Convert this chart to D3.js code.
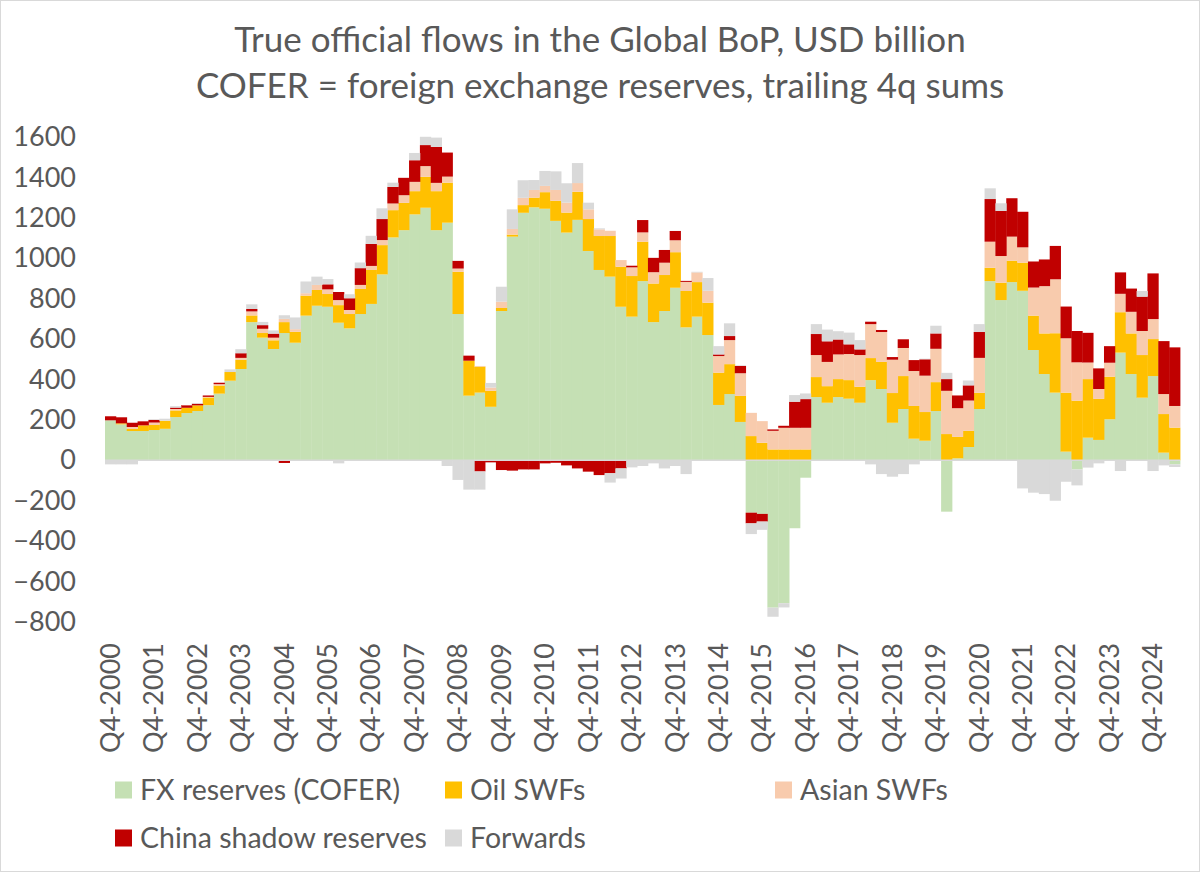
<!DOCTYPE html>
<html>
<head>
<meta charset="utf-8">
<script src="https://cdn.jsdelivr.net/npm/d3@7"></script>
<style>
  body { margin: 0; background: #fff; }
  svg text { font-family: Lato, "Liberation Sans", sans-serif; fill: #595959; }
</style>
</head>
<body>
<div class="visHolder"></div>
<script>
// trailing 4q sums, USD billion, one value per quarter from Q4-2000
const fxReserves = [
  198, 178, 145, 145, 150, 156, 214, 234, 244, 273,
  330, 394, 452, 684, 607, 551, 630, 582, 716, 765,
  760, 681, 653, 724, 774, 920, 1103, 1139, 1217, 1250,
  1139, 1176, 724, 320, 335, 265, 739, 1107, 1225, 1252,
  1245, 1185, 1127, 1190, 1036, 942, 909, 760, 711, 887,
  684, 739, 854, 658, 711, 620, 274, 328, 190, -259,
  -265, -729, -707, -336, -86, 313, 285, 313, 305, 285,
  397, 353, 186, 254, 107, 97, 244, -254, 10, 66,
  254, 887, 793, 882, 839, 546, 427, 335, 43, -45,
  112, 101, 203, 533, 427, 310, 417, 38, -20
];
const oilSWFs = [
  0, 5, 10, 28, 25, 40, 33, 26, 28, 38,
  40, 43, 45, 33, 23, 43, 54, 54, 99, 78,
  63, 87, 71, 124, 168, 145, 135, 135, 115, 153,
  193, 198, 209, 173, 129, 79, 15, 10, 38, 48,
  82, 99, 99, 139, 158, 168, 201, 198, 201, 195,
  191, 178, 176, 180, 171, 160, 160, 148, 129, 120,
  87, 54, 54, 54, 54, 99, 82, 89, 92, 79,
  109, 134, 147, 163, 162, 142, 143, 130, 106, 80,
  80, 66, 86, 106, 139, 170, 201, 294, 292, 295,
  290, 203, 211, 200, 201, 211, 183, 191, 162
];
const asianSWFs = [
  0, 0, 10, 0, 12, 0, 7, 0, 0, 3,
  7, 0, 10, 20, 21, 13, 16, 13, 12, 25,
  23, 25, 20, 20, 20, 25, 33, 38, 46, 53,
  41, 30, 16, 0, 3, 16, 31, 28, 36, 38,
  31, 54, 49, 43, 48, 33, 26, 33, 43, 46,
  56, 61, 59, 45, 48, 59, 82, 119, 112, 115,
  107, 92, 107, 107, 107, 109, 120, 122, 129, 157,
  168, 148, 165, 139, 173, 180, 165, 214, 142, 150,
  173, 129, 132, 119, 76, 139, 234, 267, 269, 190,
  82, 49, 69, 91, 107, 119, 99, 99, 107
];
const chinaShadow = [
  20, 30, 21, 20, 13, 0, 7, 12, 8, 7,
  7, 0, 23, 12, 18, 20, -13, 0, 0, 0,
  25, 40, 58, 83, 109, 104, 82, 86, 107, 104,
  178, 119, 38, 25, -55, -10, -48, -51, -45, -45,
  -15, -12, -25, -40, -56, -73, -64, -40, 8, 61,
  71, 63, 46, 5, 0, 0, 8, 20, 36, -53,
  -38, 7, 10, 129, 142, 104, 102, 74, 48, 28,
  12, 10, 13, 43, 54, 81, 76, 58, 63, 75,
  128, 211, 223, 190, 176, 129, 132, 165, 157, 155,
  147, 102, 82, 106, 115, 170, 226, 262, 290
];
const forwards = [
  -20, -20, -20, 0, 3, 10, 7, 0, 3, 0,
  0, 13, 20, 23, 16, 16, 18, 58, 58, 41,
  26, -15, 20, 28, 40, 53, 21, 0, 36, 41,
  46, -28, -97, -145, -90, 23, 74, 97, 87, 49,
  74, 92, 96, 99, 33, 5, -46, -50, -35, -28,
  -15, -40, -28, -68, 3, 63, 41, 63, 3, -53,
  -41, -45, -21, 33, 28, 49, 58, 41, 58, 46,
  -20, -68, -81, -68, -20, 3, 38, 31, 0, 24,
  39, 53, 38, 0, -139, -160, -167, -200, -106, -79,
  -36, -15, 0, -53, 0, 28, -53, -25, -13
];

const seriesKeys = ['fx', 'oil', 'asian', 'china', 'fwd'];
const seriesNames = ['FX reserves (COFER)', 'Oil SWFs', 'Asian SWFs', 'China shadow reserves', 'Forwards'];
const seriesColors = ['#C5E0B4', '#FFC000', '#F8CBAD', '#C00000', '#D9D9D9'];
const yTicks = [-800, -600, -400, -200, 0, 200, 400, 600, 800, 1000, 1200, 1400, 1600];
const titleLines = ['True official flows in the Global BoP, USD billion',
                    'COFER = foreign exchange reserves, trailing 4q sums'];

const width = 1200;
const height = 872;

// quarter labels, starting at Q4-2000
const quarters = [];
for (let i = 0; i < fxReserves.length; i++) {
  quarters.push(`Q${(3 + i) % 4 + 1}-${2000 + Math.floor((3 + i) / 4)}`);
}
const xTickLabels = quarters.filter((q, i) => i % 4 === 0);

const table = quarters.map((q, i) => ({
  quarter: q,
  fx: fxReserves[i],
  oil: oilSWFs[i],
  asian: asianSWFs[i],
  china: chinaShadow[i],
  fwd: forwards[i]
}));

const stacked = d3.stack()
  .keys(seriesKeys)
  .offset(d3.stackOffsetDiverging)(table);

const svg = d3.select('.visHolder')
  .append('svg')
  .attr('width', width)
  .attr('height', height);

svg.append('rect')
  .attr('x', 0.5)
  .attr('y', 0.5)
  .attr('width', width - 1)
  .attr('height', height - 1)
  .attr('fill', '#fff')
  .attr('stroke', '#d9d9d9');

const xScale = d3.scaleBand()
  .domain(quarters)
  .range([105, 1180])
  .padding(0);

const yScale = d3.scaleLinear()
  .domain([-800, 1600])
  .range([622, 137]);

svg.append('g')
  .selectAll('g')
  .data(stacked)
  .enter()
  .append('g')
  .attr('fill', (d, i) => seriesColors[i])
  .selectAll('rect')
  .data(d => d)
  .enter()
  .append('rect')
  .attr('x', d => xScale(d.data.quarter))
  .attr('width', xScale.bandwidth() + 0.4)
  .attr('y', d => yScale(d[1]))
  .attr('height', d => yScale(d[0]) - yScale(d[1]));

// category axis line at zero
svg.append('line')
  .attr('x1', 105)
  .attr('x2', 1180)
  .attr('y1', yScale(0))
  .attr('y2', yScale(0))
  .attr('stroke', '#d9d9d9')
  .attr('stroke-width', 1.5);

const yAxis = d3.axisLeft(yScale)
  .tickValues(yTicks)
  .tickFormat(d3.format('d'))
  .tickSize(0)
  .tickPadding(0);
svg.append('g')
  .attr('transform', 'translate(76, 0)')
  .call(yAxis)
  .call(g => g.select('.domain').remove())
  .selectAll('text')
  .style('font-size', '27px');

const xAxis = d3.axisBottom(xScale).tickValues(xTickLabels).tickSize(0);
svg.append('g')
  .attr('transform', 'translate(0, 643)')
  .call(xAxis)
  .call(g => g.select('.domain').remove())
  .selectAll('text')
  .style('font-size', '27px')
  .attr('text-anchor', 'end')
  .attr('transform', 'rotate(-90)')
  .attr('x', 0)
  .attr('y', 0)
  .attr('dy', '0.35em');

svg.selectAll('g[font-family]').attr('font-family', null);

svg.append('g')
  .selectAll('text')
  .data(titleLines)
  .enter()
  .append('text')
  .attr('x', 600)
  .attr('y', (d, i) => 40 + i * 46)
  .attr('text-anchor', 'middle')
  .attr('dy', '0.35em')
  .style('font-size', '35px')
  .text(d => d);

const legendPos = [[115, 790], [445, 790], [775, 790], [115, 838], [445, 838]];
const legend = svg.append('g')
  .selectAll('g')
  .data(seriesNames)
  .enter()
  .append('g')
  .attr('transform', (d, i) => `translate(${legendPos[i][0]}, ${legendPos[i][1]})`);

legend.append('rect')
  .attr('x', 0)
  .attr('y', -8.5)
  .attr('width', 17)
  .attr('height', 17)
  .attr('fill', (d, i) => seriesColors[i]);

legend.append('text')
  .attr('x', 25)
  .attr('y', 0)
  .attr('dy', '0.35em')
  .style('font-size', '28.5px')
  .text(d => d);
</script>
</body>
</html>
